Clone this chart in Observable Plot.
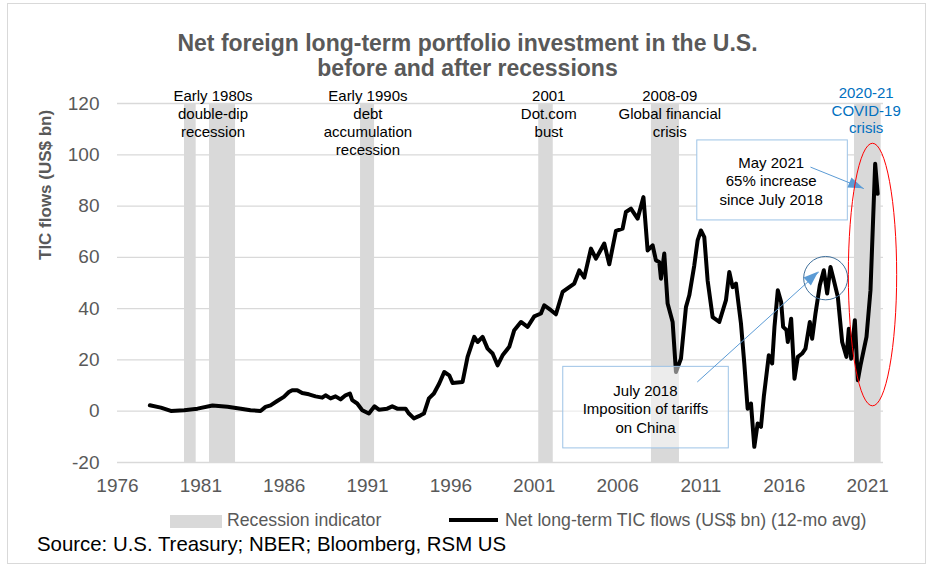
<!DOCTYPE html>
<html><head><meta charset="utf-8">
<script src="https://cdn.jsdelivr.net/npm/d3@7"></script>
<script src="https://cdn.jsdelivr.net/npm/@observablehq/plot@0.6"></script>
<style>
body{margin:0;background:#fff;}
#wrap{position:relative;width:935px;height:576px;font-family:"Liberation Sans",Arial,sans-serif;overflow:hidden;background:#fff;}
#frame{position:absolute;left:7px;top:3px;width:919px;height:561px;border:1.5px solid #d9d9d9;box-sizing:border-box;}
#title{position:absolute;left:0;top:31px;width:935px;text-align:center;font-weight:bold;font-size:23px;line-height:25px;color:#595959;}
#chart{position:absolute;left:0;top:0;}
.leg{position:absolute;font-size:17.7px;line-height:20px;color:#595959;white-space:nowrap;}
.sw{position:absolute;}
#source{position:absolute;left:37px;top:533px;font-size:20.4px;line-height:22px;color:#000;white-space:nowrap;}
</style></head>
<body>
<div id="wrap">
  <div id="frame"></div>
  <div id="chart"></div>
  <div id="title">Net foreign long-term portfolio investment in the U.S.<br>before and after recessions</div>
  <div class="sw" style="left:170px;top:515px;width:52px;height:13px;background:#d9d9d9;"></div>
  <div class="leg" style="left:227px;top:510px;">Recession indicator</div>
  <div class="sw" style="left:449px;top:518px;width:49px;height:4px;background:#000;"></div>
  <div class="leg" style="left:505px;top:510px;">Net long-term TIC flows (US$ bn) (12-mo avg)</div>
  <div id="source">Source: U.S. Treasury; NBER; Bloomberg, RSM US</div>
</div>
<script>
// ---- data ----
const recStart = [1980.02, 1981.52, 1990.58, 2001.27, 2008.03, 2020.21];
const recEnd   = [1980.72, 1983.08, 1991.42, 2002.14, 2009.71, 2021.81];

const tYear = [1977.94,1978.6,1979.2,1980.0,1980.8,1981.7,1982.6,1983.4,1983.98,1984.58,1984.88,1985.18,1985.58,1985.98,1986.28,1986.48,1986.78,1987.08,1987.48,1987.88,1988.28,1988.48,1988.78,1989.08,1989.38,1989.68,1989.94,1990.08,1990.38,1990.68,1991.08,1991.42,1991.68,1992.18,1992.48,1992.78,1993.28,1993.48,1993.78,1994.18,1994.38,1994.68,1994.98,1995.3,1995.6,1995.9,1996.1,1996.7,1997.0,1997.4,1997.6,1997.9,1998.2,1998.5,1998.8,1999.1,1999.5,1999.8,2000.2,2000.6,2001.0,2001.4,2001.6,2002.0,2002.3,2002.7,2003.1,2003.4,2003.7,2004.0,2004.4,2004.7,2005.2,2005.5,2005.9,2006.3,2006.5,2006.8,2007.2,2007.55,2007.8,2008.1,2008.3,2008.5,2008.6,2008.8,2009.0,2009.3,2009.5,2009.8,2010.1,2010.3,2010.6,2010.8,2011.0,2011.2,2011.4,2011.7,2012.1,2012.5,2012.7,2012.9,2013.1,2013.4,2013.6,2013.8,2014.0,2014.2,2014.4,2014.6,2014.77,2015.07,2015.27,2015.41,2015.61,2015.81,2015.93,2016.13,2016.21,2016.41,2016.61,2016.81,2017.07,2017.27,2017.53,2017.67,2017.87,2018.13,2018.37,2018.57,2018.77,2018.97,2019.21,2019.47,2019.73,2019.87,2020.01,2020.23,2020.41,2020.57,2020.93,2021.17,2021.45,2021.6];
const tVal  = [2.3,1.4,0.1,0.4,1.0,2.2,1.7,1.0,0.4,0.1,1.7,2.3,4.0,5.6,7.5,8.2,8.2,7.1,6.6,5.8,5.3,6.2,5.0,5.8,4.6,6.2,6.9,4.3,3.0,0.4,-0.9,1.9,0.6,1.0,1.9,1.0,1.0,-0.9,-2.8,-1.6,-0.9,5.0,6.9,10.8,15.3,14.0,11.0,11.4,21.2,29.0,27.0,29.0,24.4,22.5,17.9,21.8,25.1,31.6,34.8,32.9,37.0,38.1,41.3,39.4,37.8,46.5,48.4,49.8,54.9,52.1,63.4,59.5,65.4,57.3,70.3,71.2,77.7,79.0,75.1,83.5,62.7,64.7,58.8,58.2,51.7,61.5,42.0,34.8,15.3,20.5,40.6,45.2,56.9,66.6,70.5,67.9,51.0,36.7,34.8,43.3,54.3,48.4,49.8,34.2,18.6,1.0,3.0,-13.9,-4.8,-6.1,5.6,21.8,18.6,32.9,47.2,42.6,32.9,31.6,27.0,36.1,12.7,21.2,22.5,24.4,34.8,28.3,38.1,49.1,55.0,45.9,56.2,51.1,44.6,27.0,21.2,32.2,20.5,35.5,12.1,17.9,29.0,47.2,96.5,84.8];

const yTicks = [-20, 0, 20, 40, 60, 80, 100, 120];
const xTicks = [1976, 1981, 1986, 1991, 1996, 2001, 2006, 2011, 2016, 2021];

const recLabels = ["Early 1980s\ndouble-dip\nrecession", "Early 1990s\ndebt\naccumulation\nrecession", "2001\nDot.com\nbust", "2008-09\nGlobal financial\ncrisis"];
const covidLabel = "2020-21\nCOVID-19\ncrisis";
const note1 = "July 2018\nImposition of tariffs\non China";
const note2 = "May 2021\n65% increase\nsince July 2018";

// ---- tables built from arrays ----
const recessions = recStart.map((s, i) => ({start: s, end: recEnd[i]}));
const flows = tYear.map((t, i) => ({t, v: tVal[i]}));

// annotation placement (data coordinates)
const recLabelPos = [1981.73, 1991.02, 2001.87, 2009.13];
const labels = recLabels.map((text, i) => ({x: recLabelPos[i], text}));
const box1 = {x1: 2002.74, x2: 2012.67, y1: -14.5, y2: 17.3, tx: 2007.67, ty: 1.05};
const box2 = {x1: 2010.78, x2: 2019.81, y1: 74.4, y2: 105.6, tx: 2015.21, ty: 90.0};
const arrows = [
  {x1: 2010.78, y1: 11.4, x2: 2018.07, y2: 54.3},
  {x1: 2017.57, y1: 95.2, x2: 2020.77, y2: 86.8}
];

const font = "Liberation Sans, Arial, sans-serif";
const chart = Plot.plot({
  width: 935, height: 576,
  marginTop: 103, marginBottom: 114, marginLeft: 117, marginRight: 52,
  style: {fontFamily: font, background: "transparent", overflow: "visible"},
  x: {domain: [1976, 2021.95]},
  y: {domain: [-20, 120]},
  marks: [
    Plot.gridY(yTicks, {stroke: "#d9d9d9", strokeOpacity: 1, strokeWidth: 1.3}),
    Plot.rect(recessions, {x1: "start", x2: "end", y1: () => -20, y2: () => 120, fill: "#d9d9d9"}),
    Plot.axisY(yTicks, {tickSize: 0, tickPadding: 18, fontSize: 19, fill: "#595959", label: null, tickFormat: d => String(d)}),
    Plot.axisX(xTicks, {tickSize: 0, tickPadding: 16, fontSize: 19, fill: "#595959", label: null, tickFormat: d => String(d)}),
    Plot.text(["TIC flows (US$ bn)"], {frameAnchor: "left", text: d => d, rotate: -90, dx: -72, dy: -23, fontSize: 17, fontWeight: "bold", fill: "#595959"}),
    Plot.line(flows, {x: "t", y: "v", stroke: "#000", strokeWidth: 4, strokeLinejoin: "round", strokeLinecap: "round"}),
    Plot.rect([box2], {x1: "x1", x2: "x2", y1: "y1", y2: "y2", fill: "#fff", stroke: "#9DC3E6", strokeWidth: 1}),
    Plot.rect([box1], {x1: "x1", x2: "x2", y1: "y1", y2: "y2", fill: "#fff", fillOpacity: 0.5, stroke: "#9DC3E6", strokeWidth: 1}),
    Plot.text([box1], {x: "tx", y: "ty", text: () => note1, fontSize: 15, lineHeight: 1.22, fill: "#000"}),
    Plot.text([box2], {x: "tx", y: "ty", text: () => note2, fontSize: 15, lineHeight: 1.22, fill: "#000"}),
    Plot.text(labels, {x: "x", y: () => 125.8, text: "text", lineAnchor: "top", fontSize: 15, lineHeight: 1.19, fill: "#000"}),
    Plot.text([covidLabel], {x: () => 2020.91, y: () => 127.2, text: d => d, lineAnchor: "top", fontSize: 15, lineHeight: 1.19, fill: "#0070C0"}),
    Plot.link(arrows, {x1: "x1", y1: "y1", x2: "x2", y2: "y2", stroke: "#5B9BD5", strokeWidth: 1})
  ]
});
document.getElementById("chart").appendChild(chart);

// shapes that Plot has no mark for: ellipses and filled arrowheads, positioned via Plot's scales
const sx = chart.scale("x"), sy = chart.scale("y");
const X = v => sx.apply(v), Y = v => sy.apply(v);
const svg = d3.select(chart);
arrows.forEach(a => {
  const x1 = X(a.x1), y1 = Y(a.y1), x2 = X(a.x2), y2 = Y(a.y2);
  const ang = Math.atan2(y2 - y1, x2 - x1), len = 15, w = 11;
  const bx = x2 - len * Math.cos(ang), by = y2 - len * Math.sin(ang);
  const px = -Math.sin(ang) * w / 2, py = Math.cos(ang) * w / 2;
  svg.append("polygon").attr("points", `${x2},${y2} ${bx + px},${by + py} ${bx - px},${by - py}`).attr("fill", "#5B9BD5");
});
const ellipses = [
  {cx: 2018.51, cy: 51.7, rx: 1.32, ry: 8.46, stroke: "#41719C"},
  {cx: 2021.32, cy: 53.1, rx: 1.45, ry: 51.2, stroke: "#FF0000"}
];
ellipses.forEach(e => {
  const cx = X(e.cx), cy = Y(e.cy);
  svg.append("ellipse").attr("cx", cx).attr("cy", cy)
    .attr("rx", Math.abs(X(e.cx + e.rx) - cx)).attr("ry", Math.abs(Y(e.cy + e.ry) - cy))
    .attr("fill", "none").attr("stroke", e.stroke).attr("stroke-width", 1);
});
</script>
</body></html>
